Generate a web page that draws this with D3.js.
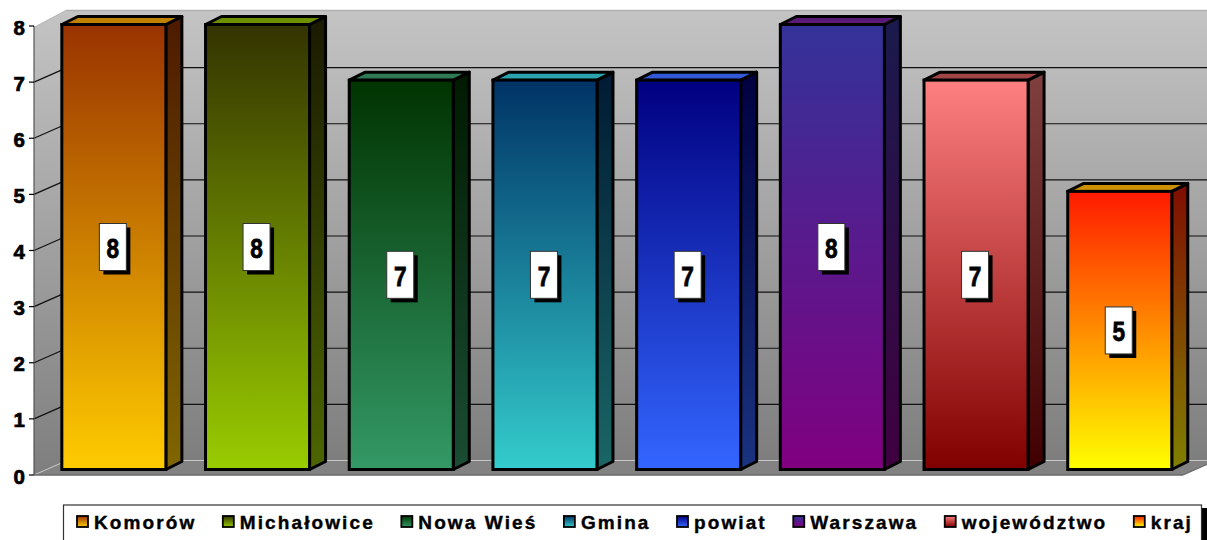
<!DOCTYPE html>
<html><head><meta charset="utf-8">
<script src="https://cdn.jsdelivr.net/npm/d3@7"></script>
<style>
html,body{margin:0;padding:0;background:#fff;}
svg{display:block;}
</style></head>
<body>
<svg id="c" width="1207" height="540"></svg>
<script>
const categories = ["Komorów","Michałowice","Nowa Wieś","Gmina","powiat","Warszawa","województwo","kraj"];
const values = [8,8,7,7,7,8,7,5];
const yTicks = [0,1,2,3,4,5,6,7,8];
const topColors = ["#993300","#333300","#003300","#003366","#000080","#333399","#FF8080","#FF1a00"];
const bottomColors = ["#FFCC00","#99CC00","#339966","#33CCCC","#3366FF","#800080","#800000","#FFFF00"];
const capColors = ["#c08000","#6e8f00","#2e7a55","#2aa5ae","#3358d8","#5a1a78","#a04545","#cc9000"];

const FONT = "Arial, 'Liberation Sans', Helvetica, sans-serif";
const W = 1207, H = 540;
const svg = d3.select("#c");
const defs = svg.append("defs");

const yAxisScale = d3.scaleLinear().domain([0,8]).range([475,26]);
const yBar = d3.scaleLinear().domain([0,8]).range([469.5,24.5]);
const x = d3.scaleBand().domain(categories).range([42,1191.6]).paddingInner(0.276).paddingOuter(0.138);
const wallDX = 33, wallDY = -14.5;
const barDX = 16, barDY = -8;
const axisX = 34;

function half(c){ const k = d3.rgb(c); return d3.rgb(k.r*0.5,k.g*0.5,k.b*0.5).formatHex(); }
function vGrad(id, c1, c2){
  const g = defs.append("linearGradient").attr("id",id).attr("x1",0).attr("y1",0).attr("x2",0).attr("y2",1);
  g.append("stop").attr("offset","0%").attr("stop-color",c1);
  g.append("stop").attr("offset","100%").attr("stop-color",c2);
}
vGrad("wallG","#c4c4c4","#7e7e7e");
categories.forEach((c,i)=>{
  vGrad("front"+i, topColors[i], bottomColors[i]);
  vGrad("side"+i, half(topColors[i]), half(bottomColors[i]));
});

const backLeft = axisX + wallDX;
const wallTop = 10;
svg.append("rect").attr("x",backLeft).attr("y",wallTop).attr("width",W-backLeft+40)
  .attr("height",yAxisScale(0)+wallDY-wallTop).attr("fill","url(#wallG)");
svg.append("path").attr("d",`M${axisX},${yAxisScale(8)+1.5} L${backLeft},${wallTop} L${backLeft},${yAxisScale(0)+wallDY} L${axisX},${yAxisScale(0)} Z`)
  .attr("fill","url(#wallG)");
svg.append("line").attr("x1",backLeft).attr("x2",W).attr("y1",wallTop+0.5).attr("y2",wallTop+0.5)
  .attr("stroke","#b0b0b0").attr("stroke-width",1.5);
svg.append("line").attr("x1",axisX).attr("y1",yAxisScale(8)+1.5).attr("x2",backLeft).attr("y2",wallTop)
  .attr("stroke","#b8b8b8").attr("stroke-width",1.2);

const gridVals = yTicks.filter(v=>v>0 && v<8);
svg.selectAll(".gb").data(gridVals).enter().append("line")
  .attr("x1",backLeft).attr("x2",W)
  .attr("y1",d=>yAxisScale(d)+wallDY).attr("y2",d=>yAxisScale(d)+wallDY)
  .attr("stroke","#111").attr("stroke-width",1.2);
svg.selectAll(".gl").data(gridVals).enter().append("line")
  .attr("x1",axisX).attr("x2",backLeft)
  .attr("y1",d=>yAxisScale(d)).attr("y2",d=>yAxisScale(d)+wallDY)
  .attr("stroke","#111").attr("stroke-width",1.2);

const floorRight = 1183;
const y0 = yAxisScale(0);
svg.append("path").attr("d",`M${axisX},${y0} L${floorRight},${y0} L${floorRight+wallDX},${y0+wallDY} L${backLeft},${y0+wallDY} Z`)
  .attr("fill","#828282");
svg.append("line").attr("x1",backLeft).attr("x2",W).attr("y1",y0+wallDY).attr("y2",y0+wallDY)
  .attr("stroke","#c8c8c8").attr("stroke-width",1.2);
svg.append("line").attr("x1",axisX).attr("x2",backLeft).attr("y1",y0).attr("y2",y0+wallDY)
  .attr("stroke","#c8c8c8").attr("stroke-width",1);
svg.append("line").attr("x1",axisX).attr("x2",floorRight).attr("y1",y0).attr("y2",y0)
  .attr("stroke","#6a6a6a").attr("stroke-width",1.5);
svg.append("line").attr("x1",floorRight).attr("x2",floorRight+wallDX).attr("y1",y0).attr("y2",y0+wallDY)
  .attr("stroke","#6a6a6a").attr("stroke-width",1.2);

const bars = svg.selectAll(".bar").data(categories.map((c,i)=>({c,i,v:values[i]}))).enter().append("g");
bars.each(function(d){
  const g = d3.select(this);
  const x0 = x(d.c), bw = x.bandwidth();
  const yt = yBar(d.v), yb = yBar(0);
  g.append("path").attr("d",`M${x0+bw},${yt} L${x0+bw+barDX},${yt+barDY} L${x0+bw+barDX},${yb+barDY} L${x0+bw},${yb} Z`)
    .attr("fill",`url(#side${d.i})`).attr("stroke","#000").attr("stroke-width",3).attr("stroke-linejoin","round");
  g.append("path").attr("d",`M${x0},${yt} L${x0+barDX},${yt+barDY} L${x0+bw+barDX},${yt+barDY} L${x0+bw},${yt} Z`)
    .attr("fill",capColors[d.i]).attr("stroke","#000").attr("stroke-width",3).attr("stroke-linejoin","round");
  g.append("rect").attr("x",x0).attr("y",yt).attr("width",bw).attr("height",yb-yt)
    .attr("fill",`url(#front${d.i})`).attr("stroke","#000").attr("stroke-width",3);
  const cx = x0 + bw/2 - 1, cy = (yt+yb)/2;
  const lw = 27, lh = 47;
  g.append("rect").attr("x",cx-lw/2+4).attr("y",cy-lh/2+4).attr("width",lw).attr("height",lh).attr("fill","#000");
  g.append("rect").attr("x",cx-lw/2).attr("y",cy-lh/2).attr("width",lw).attr("height",lh)
    .attr("fill","#fff").attr("stroke","#333").attr("stroke-width",1);
  g.append("text").attr("transform",`translate(${cx},${cy+1}) scale(1.08,1.3)`)
    .attr("text-anchor","middle").attr("dominant-baseline","central")
    .attr("font-family",FONT).attr("font-weight","bold")
    .attr("stroke","#000").attr("stroke-width",0.6)
    .attr("font-size",21).attr("fill","#000").text(d.v);
});

svg.append("line").attr("x1",axisX).attr("x2",axisX).attr("y1",yAxisScale(8)).attr("y2",yAxisScale(0))
  .attr("stroke","#555").attr("stroke-width",1.2);
svg.selectAll(".tk").data(yTicks).enter().append("line")
  .attr("x1",29).attr("x2",axisX).attr("y1",d=>yAxisScale(d)).attr("y2",d=>yAxisScale(d))
  .attr("stroke","#000").attr("stroke-width",1.2);
svg.selectAll(".tl").data(yTicks).enter().append("text")
  .attr("x",25).attr("y",d=>yAxisScale(d)+1).attr("text-anchor","end").attr("dominant-baseline","central")
  .attr("font-family",FONT).attr("font-weight","bold")
  .attr("stroke","#000").attr("stroke-width",0.7)
  .attr("font-size",20.5).attr("fill","#000").text(d=>d);

const legTop = 505;
svg.append("rect").attr("x",1202).attr("y",508).attr("width",10).attr("height",40).attr("fill","#000");
svg.append("rect").attr("x",63.5).attr("y",legTop).attr("width",1138).attr("height",50)
  .attr("fill","#fff").attr("stroke","#333").attr("stroke-width",1.2);
const leg = svg.append("g");
let lx = 77;
categories.forEach((c,i)=>{
  vGrad("leg"+i, topColors[i], bottomColors[i]);
  leg.append("rect").attr("x",lx).attr("y",516).attr("width",11).attr("height",11)
    .attr("fill",`url(#leg${i})`).attr("stroke","#000").attr("stroke-width",1.8);
  const t = leg.append("text").attr("x",lx+17).attr("y",528.5).attr("font-size",19)
    .attr("font-family",FONT).attr("font-weight","bold")
    .attr("stroke","#000").attr("stroke-width",0.4)
    .attr("letter-spacing","2.1px").attr("fill","#000").text(c);
  const w = t.node().getComputedTextLength();
  lx = lx + 17 + w + 26.5;
});
</script>
</body></html>
